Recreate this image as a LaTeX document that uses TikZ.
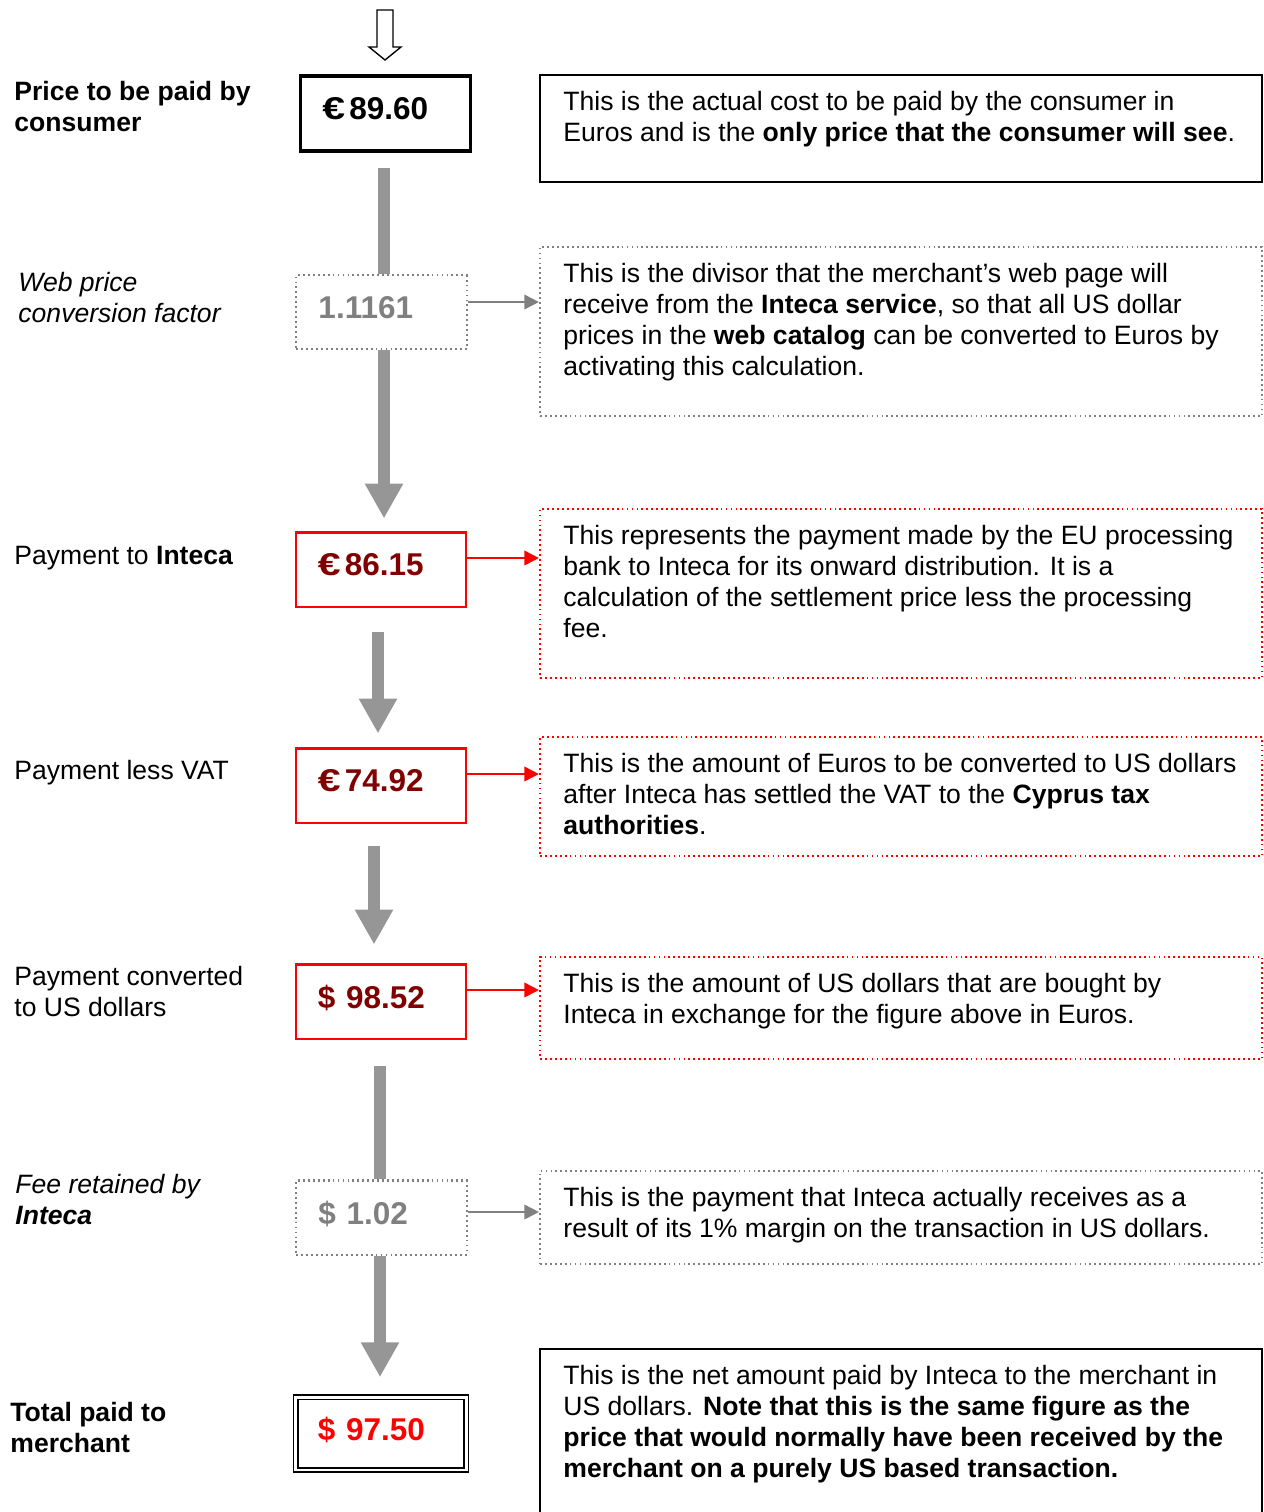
\documentclass[tikz,border=0pt]{standalone}
\usepackage{fontspec}
\setmainfont{Liberation Sans}
\usetikzlibrary{arrows.meta}
\definecolor{ftgray}{RGB}{150,150,150}
\definecolor{ftdot}{RGB}{128,128,128}
\definecolor{ftred}{RGB}{255,0,0}
\definecolor{ftdark}{RGB}{128,0,0}
\newcommand{\euro}{\scalebox{1.3}[1]{€}\kern1.8pt}

\begin{document}
\begin{tikzpicture}[x=0.4444pt, y=-0.4444pt,
  valbox/.style={draw, fill=white, minimum height=32.9pt, text width=56pt, align=left, text depth=4.4pt,
    inner xsep=9.8pt, inner ysep=0pt, font=\fontsize{14pt}{16pt}\selectfont\bfseries},
  redbox/.style={valbox, draw=ftred, line width=0.9pt, text=ftdark},
  greybox/.style={valbox, draw=ftdot, text=ftdot, line width=0.9pt, dash pattern=on 0.8pt off 1.4pt},
  descbox/.style={draw, minimum width=320.9pt, inner sep=0pt},
  reddots/.style={draw=ftred, line width=0.9pt, dash pattern=on 0.8pt off 1.4pt},
  greydots/.style={draw=ftdot, line width=0.9pt, dash pattern=on 0.8pt off 1.4pt},
  desctext/.style={anchor=north west, inner sep=0pt, align=left, font=\fontsize{11.8pt}{13.8pt}\selectfont},
  flowbar/.style={ftgray, line width=5.3pt},
  flowarrow/.style={flowbar, -{Triangle[length=15.5pt, width=16pt]}},
  linkarrow/.style={line width=0.8pt, -{Triangle[length=6.5pt, width=6.5pt]}}]
\useasboundingbox (0,0) rectangle (1264,1512);
% Incoming arrow
\draw[fill=white, line width=0.6pt] (377,10) -- (393,10) -- (393,47) -- (401,47)
  -- (385,60) -- (369,47) -- (377,47) -- cycle;
% Value boxes
\node[valbox, line width=1.4pt, minimum height=33.3pt] (price) at (385.5,113.5) {\euro 89.60};
\node[greybox] (conv) at (381.5,312) {1.1161};
\node[redbox] (pay) at (381,569.5) {\euro 86.15};
\node[redbox] (net) at (381,785.5) {\euro 74.92};
\node[redbox] (usd) at (381,1001.5) {\$ 98.52};
\node[greybox] (fee) at (381.5,1217.5) {\$ 1.02};
\node[valbox, double, double distance=1.3pt, line width=0.8pt, minimum height=32.4pt, text=ftred]
  (total) at (381,1433.5) {\$ 97.50};
% Description boxes
\node[descbox, line width=0.9pt, minimum height=47.6pt] (d1) at (901,128.5) {};
\node[descbox, greydots, minimum height=75.1pt] (d2) at (901,331.5) {};
\node[descbox, reddots, minimum height=75.1pt] (d3) at (901,593.5) {};
\node[descbox, reddots, minimum height=52.9pt] (d4) at (901,796.5) {};
\node[descbox, reddots, minimum height=45.3pt] (d5) at (901,1008) {};
\node[descbox, greydots, minimum height=41.3pt] (d6) at (901,1217.5) {};
\node[descbox, line width=0.9pt, minimum height=80.4pt] (d7) at (901,1439.5) {};
% Description texts
\node[desctext] (t1) at (563,91) {This is the actual cost to be paid by the consumer in\\
  Euros and is the \textbf{only price that the consumer will see}.};
\node[desctext] (t2) at (563,263) {This is the divisor that the merchant’s web page will\\
  receive from the \textbf{Inteca service}, so that all US dollar\\
  prices in the \textbf{web catalog} can be converted to Euros by\\
  activating this calculation.};
\node[desctext] (t3) at (563,525) {This represents the payment made by the EU processing\\
  bank to Inteca for its onward distribution. It is a\\
  calculation of the settlement price less the processing\\
  fee.};
\node[desctext] (t4) at (563,753) {This is the amount of Euros to be converted to US dollars\\
  after Inteca has settled the VAT to the \textbf{Cyprus tax}\\
  \textbf{authorities}.};
\node[desctext] (t5) at (563,973) {This is the amount of US dollars that are bought by\\
  Inteca in exchange for the figure above in Euros.};
\node[desctext] (t6) at (563,1187) {This is the payment that Inteca actually receives as a\\
  result of its 1\% margin on the transaction in US dollars.};
\node[desctext] (t7) at (563,1365) {This is the net amount paid by Inteca to the merchant in\\
  US dollars. \textbf{Note that this is the same figure as the}\\
  \textbf{price that would normally have been received by the}\\
  \textbf{merchant on a purely US based transaction.}};
% Side labels
\node[desctext] (l1) at (14,81) {\textbf{Price to be paid by}\\\textbf{consumer}};
\node[desctext] (l2) at (18,272) {\textit{Web price}\\\textit{conversion factor}};
\node[desctext] (l3) at (14,546) {Payment to \textbf{Inteca}};
\node[desctext] (l4) at (14,760) {Payment less VAT};
\node[desctext] (l5) at (14,966) {Payment converted\\to US dollars};
\node[desctext] (l6) at (15,1174) {\textit{Fee retained by}\\\textbf{\textit{Inteca}}};
\node[desctext] (l7) at (10,1402) {\textbf{Total paid to}\\\textbf{merchant}};
% Flow arrows
\draw[flowbar] ([shift={(-1.5,15)}]price.south) -- ([shift={(2.5,0)}]conv.north);
\draw[flowarrow] ([shift={(2.5,0)}]conv.south) -- ([shift={(3,-13)}]pay.north);
\draw[flowarrow] ([shift={(-3,24)}]pay.south) -- ([shift={(-3,-14)}]net.north);
\draw[flowarrow] ([shift={(-7,22)}]net.south) -- ([shift={(-7,-19)}]usd.north);
\draw[flowbar] ([shift={(-1,26)}]usd.south) -- ([shift={(-1.5,0)}]fee.north);
\draw[flowarrow] ([shift={(-1.5,0)}]fee.south) -- ([shift={(-1,-19)}]total.north);
% Links to descriptions
\foreach \src/\dst/\col/\dy in {conv/d2/ftdot/-10, pay/d3/ftred/-11.5, net/d4/ftred/-11.5,
    usd/d5/ftred/-11.5, fee/d6/ftdot/-5.5} {
  \coordinate (\src-out) at ([shift={(0,\dy)}]\src.east);
  \draw[linkarrow, \col] (\src-out) -- (\src-out -| \dst.west);
}
\end{tikzpicture}
\end{document}
